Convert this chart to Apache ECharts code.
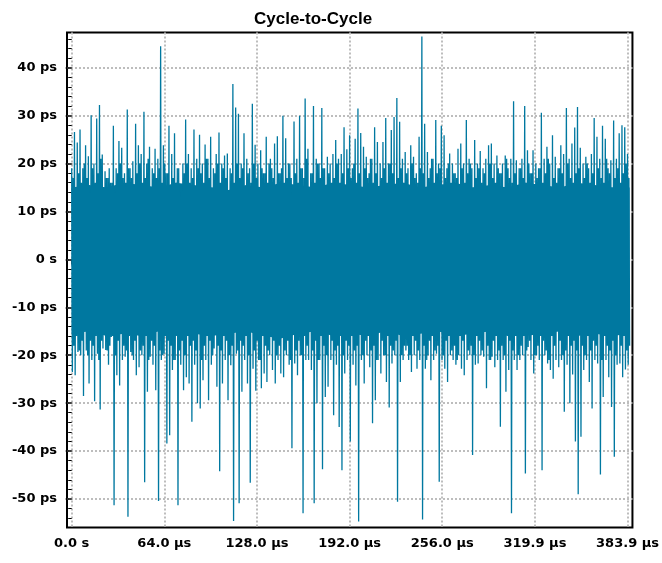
<!DOCTYPE html>
<html>
<head>
<meta charset="utf-8">
<script src="https://cdn.jsdelivr.net/npm/echarts@6/dist/echarts.min.js"></script>
<style>
html,body{margin:0;padding:0;background:#fff;}
#chart{width:662px;height:563px;}
</style>
</head>
<body>
<div id="chart"></div>
<script>
// Cycle-to-cycle jitter, ps. Each time column holds a large positive and negative excursion
// followed by a smaller positive and negative excursion.
const titleText = 'Cycle-to-Cycle';
const timeStart = 0;      // µs
const timeEnd = 383.9;    // µs

const upperPs = [
 19,26.6,24.4,27.1,19,23.8,21.5,30.1,20,29.4,32.2,21.9,18.4,17,16,27.9,19,24.7,23.3,18,
 31.3,19,20.5,28.3,23.8,22,30.8,20,23.5,19,23.1,21,44.5,23.8,18,27.9,22,26.3,19,14,
 20,29.2,22,19,27.1,21,26,20,24,21,25.6,19,22,26.5,20,21.7,22.1,19,36.6,31.7,
 30.4,20,26.3,21,19,32.5,23.9,20,22.8,18,25.6,20,19,24.2,25.7,18,30,25.3,20,17,
 28.8,21,30,19,33.6,23.1,18,32,21,20,31.6,19,21.4,20,22,24.9,21,22,27.6,23,
 25.9,19,25.2,31.5,26.4,23.5,21.4,18,21,27.6,24.5,20,24.5,29.5,20,27,29.7,33.7,28.7,21,
 22.4,19,23.8,21.4,18,25.6,46.5,28.3,22.4,19,21,29.1,20,27.9,25.9,19,22.1,20,18,23.1,
 24.2,20,29.1,21,19,24.9,20,22.6,19,21,23.8,24.2,20,21.7,18,20,21.7,19,21,33,
 20.7,19,21,32,22.8,18,22.8,20,19,30.6,21,23.5,20,25.9,21.4,19,23.8,22,31.6,21,
 24.2,27.5,31.8,23.3,20,21.4,19,22,29.5,25.6,21,27.9,25.2,19,20.7,29,21,26.3,28,27.6,
 22
];
const lowerPs = [
 -23.5,-24.2,-19.3,-20,-28.5,-19,-25.9,-21,-29.6,-19.7,-31.3,-18.6,-18.9,-22,-16.2,-51.3,-24.2,-26.3,-21,-20.3,
 -53.7,-19.3,-21,-24.2,-22.5,-20,-46.5,-27.6,-20.3,-22,-27.3,-50.4,-21,-19.7,-38.4,-36.7,-23.1,-21,-51.3,-22,
 -27.3,-24.6,-25.9,-33.9,-22,-30,-31.1,-25.2,-21,-29.4,-22,-18.6,-26.6,-44.2,-25.9,-21,-29.4,-22.1,-54.6,-19.7,
 -50.9,-27.6,-21,-25.9,-46.6,-22.8,-27.4,-21,-26.9,-23.8,-25.6,-20,-23.1,-25.9,-21,-23.8,-24.6,-20,-22,-39.4,
 -21.7,-24.2,-20,-53,-21,-21,-23.1,-50.9,-30,-21,-43.8,-28.7,-26.6,-21,-32.5,-22,-35,-44,-23.8,-21,
 -38,-22,-26.3,-54.7,-21,-25.9,-20,-22.5,-34.2,-29.4,-21,-23.8,-20,-25.6,-30.9,-21.7,-20,-50.6,-25.6,-21,
 -19,-21,-23.5,-20,-22.8,-21,-54.3,-22.8,-20,-25.2,-21,-19.7,-46.4,-21,-22.8,-25.6,-20,-21,-22,-20,
 -22.8,-24.2,-21,-20,-40.8,-22,-21.7,-20,-20.3,-26.9,-21,-20.3,-22.5,-21,-34.9,-21,-27.6,-23.1,-53,-21,
 -23.1,-21,-20,-44.7,-18.3,-21,-23.8,-20,-21,-44,-20,-21.7,-23.1,-24.9,-21,-22.5,-21,-31.8,-22,-30,
 -24,-38,-49,-37,-23.1,-21,-25.6,-31.1,-21,-21.7,-44.9,-28.7,-21,-24.6,-30.8,-41.2,-22,-21.7,-24.6,-23,
 -22
];
const midUpperPs = [
 17,15,18,16,20,17,14,19,16,18,21,15,17,19,16,14,18,20,17,16,
 19,17,15,18,20,16,17,21,15,18,17,19,16,20,18,15,17,16,19,14,
 18,20,16,17,15,19,18,16,21,17,15,18,20,16,19,17,14,18,16,20,
 17,19,15,18,16,20,17,15,19,18,16,21,17,15,18,19,16,17,20,15,
 18,16,19,17,21,15,18,16,20,17,19,15,18,16,17,20,16,18,15,19,
 17,20,16,18,15,19,17,21,16,18,15,17,19,16,20,18,15,17,19,16,
 18,15,20,17,16,19,18,15,17,21,16,18,19,15,17,20,16,18,17,15,
 19,16,18,20,15,17,19,16,18,15,20,17,16,19,18,15,21,17,16,18,
 15,19,17,16,20,18,15,17,19,16,18,21,15,17,16,19,18,15,20,17,
 16,18,19,15,17,20,16,18,15,19,17,16,21,18,15,17,19,16,18,20,
 17
];
const midLowerPs = [
 -18,-16,-19,-17,-15,-20,-17,-18,-16,-21,-17,-15,-19,-18,-16,-20,-17,-15,-18,-19,
 -16,-20,-17,-15,-19,-18,-16,-21,-17,-18,-15,-19,-20,-16,-17,-18,-21,-15,-19,-17,
 -20,-16,-18,-17,-19,-15,-21,-18,-16,-17,-20,-15,-18,-19,-16,-17,-20,-18,-15,-19,
 -17,-18,-16,-20,-15,-19,-17,-21,-16,-18,-19,-15,-17,-20,-18,-16,-19,-17,-21,-15,
 -19,-17,-20,-16,-18,-15,-19,-17,-21,-16,-18,-20,-15,-17,-19,-18,-16,-20,-17,-18,
 -16,-19,-18,-15,-20,-17,-16,-19,-18,-21,-15,-17,-20,-16,-18,-19,-17,-15,-20,-18,
 -18,-20,-16,-17,-19,-15,-18,-21,-17,-16,-19,-18,-15,-20,-17,-16,-19,-18,-21,-16,
 -17,-15,-19,-18,-20,-16,-17,-19,-15,-18,-21,-17,-16,-19,-18,-20,-15,-17,-19,-16,
 -20,-18,-16,-19,-17,-15,-20,-18,-16,-17,-19,-21,-16,-18,-15,-17,-20,-19,-16,-18,
 -17,-19,-15,-18,-20,-16,-19,-17,-18,-15,-21,-16,-18,-19,-17,-20,-15,-18,-16,-19,
 -18
];
// dense core of the band (where the trace is solid), ps, sampled every 12 µs
const coreTopPs = [15,15.5,15,16,15.5,15,16,15.5,15,14.5,15.5,15,16,15.5,15,16,15.5,15,15.5,16,15,15.5,16,15,15.5,15,16,15.5,15,16,15.5,15,15];
const coreBottomPs = [-15.5,-15,-16,-15.5,-16,-15,-16,-15.5,-16,-15.5,-15,-16,-16.5,-15.5,-15,-16,-15.5,-16,-15,-16,-15.5,-15,-16,-15.5,-15,-16,-16,-15.5,-15,-16,-15.5,-16,-15.5];

const xTickValues = [0, 63.98, 127.97, 191.95, 255.93, 319.92, 383.9];
const xTickLabels = ['0.0 s', '64.0 µs', '128.0 µs', '192.0 µs', '256.0 µs', '319.9 µs', '383.9 µs'];
const yTickValues = [-50, -40, -30, -20, -10, 0, 10, 20, 30, 40];
const yTickLabels = ['-50 ps', '-40 ps', '-30 ps', '-20 ps', '-10 ps', '0 s', '10 ps', '20 ps', '30 ps', '40 ps'];

// minor tick positions (5 subdivisions per major step)
const xMinorTicks = [];
for (let k = 0; k <= 30; k++) { if (k % 5) xMinorTicks.push(k * 63.9833 / 5); }
const yMinorTicks = [];
for (let v = -54; v <= 46; v += 2) { if (v % 10) yMinorTicks.push(v); }

// build the series: alternate positive and negative excursions along time
const nCols = upperPs.length;
const dt = (timeEnd - timeStart) / (nCols - 1);
const seriesData = [];
for (let i = 0; i < nCols; i++) {
  const t = timeStart + i * dt;
  seriesData.push([t, upperPs[i]]);
  seriesData.push([t + 0.25 * dt, lowerPs[i]]);
  seriesData.push([t + 0.5 * dt, midUpperPs[i]]);
  seriesData.push([t + 0.75 * dt, midLowerPs[i]]);
}
const coreDt = (timeEnd + 0.75 * dt - timeStart) / (coreTopPs.length - 1);
const coreTopData = coreTopPs.map((v, k) => [timeStart + k * coreDt, v]);
const coreBottomData = coreBottomPs.map((v, k) => [timeStart + k * coreDt, v]);

function labelFor(values, labels, v) {
  let best = 0;
  for (let k = 1; k < values.length; k++) {
    if (Math.abs(values[k] - v) < Math.abs(values[best] - v)) best = k;
  }
  return labels[best];
}

const traceColor = '#0078a0';
const labelFont = { fontFamily: 'DejaVu Sans', fontWeight: 'bold', fontSize: 13, color: '#000' };
const gridDots = { color: '#bdbdbd', width: 2, type: [2, 2] };

function coreSeries(data) {
  return {
    type: 'line', xAxisIndex: 0, yAxisIndex: 0, data: data,
    showSymbol: false, symbol: 'none', silent: true,
    lineStyle: { width: 0, color: traceColor },
    areaStyle: { color: traceColor, opacity: 1, origin: 0 },
    z: 2
  };
}

const chart = echarts.init(document.getElementById('chart'), null, { renderer: 'canvas' });
chart.setOption({
  animation: false,
  backgroundColor: '#fff',
  title: {
    text: titleText,
    left: 249,
    top: 6,
    textStyle: { fontFamily: 'Liberation Sans', fontWeight: 'bold', fontSize: 17, color: '#000' }
  },
  grid: {
    left: 67, top: 32.5, width: 567, height: 495,
    show: true, borderColor: '#000', borderWidth: 2, backgroundColor: 'transparent',
    containLabel: false
  },
  xAxis: [
    {
      type: 'value', min: -3.24, max: 387.3, position: 'bottom',
      axisLine: { show: false },
      axisTick: { show: true, customValues: xTickValues, length: 5, lineStyle: { color: '#000', width: 1.5 } },
      axisLabel: Object.assign({ customValues: xTickValues, margin: 10,
        formatter: v => labelFor(xTickValues, xTickLabels, v) }, labelFont),
      splitLine: { show: true, lineStyle: gridDots }
    },
    {
      type: 'value', min: -3.24, max: 387.3, position: 'bottom',
      axisLine: { show: false },
      axisTick: { show: true, customValues: xMinorTicks, length: 3, lineStyle: { color: '#000', width: 1 } },
      axisLabel: { show: false },
      splitLine: { show: false }
    }
  ],
  yAxis: [
    {
      type: 'value', min: -55.95, max: 47.35, position: 'left',
      axisLine: { show: false },
      axisTick: { show: true, customValues: yTickValues, length: 6, lineStyle: { color: '#000', width: 1.5 } },
      axisLabel: Object.assign({ customValues: yTickValues, margin: 10,
        formatter: v => labelFor(yTickValues, yTickLabels, v) }, labelFont),
      splitLine: { show: true, lineStyle: gridDots }
    },
    {
      type: 'value', min: -55.95, max: 47.35, position: 'left',
      axisLine: { show: false },
      axisTick: { show: true, customValues: yMinorTicks, length: 3.5, lineStyle: { color: '#000', width: 1 } },
      axisLabel: { show: false },
      splitLine: { show: false }
    }
  ],
  series: [
    coreSeries(coreTopData),
    coreSeries(coreBottomData),
    {
      type: 'line',
      xAxisIndex: 0, yAxisIndex: 0,
      data: seriesData,
      showSymbol: false,
      symbol: 'none',
      sampling: null,
      lineStyle: { color: traceColor, width: 1.3 },
      clip: true,
      z: 3
    }
  ]
});
</script>
</body>
</html>
